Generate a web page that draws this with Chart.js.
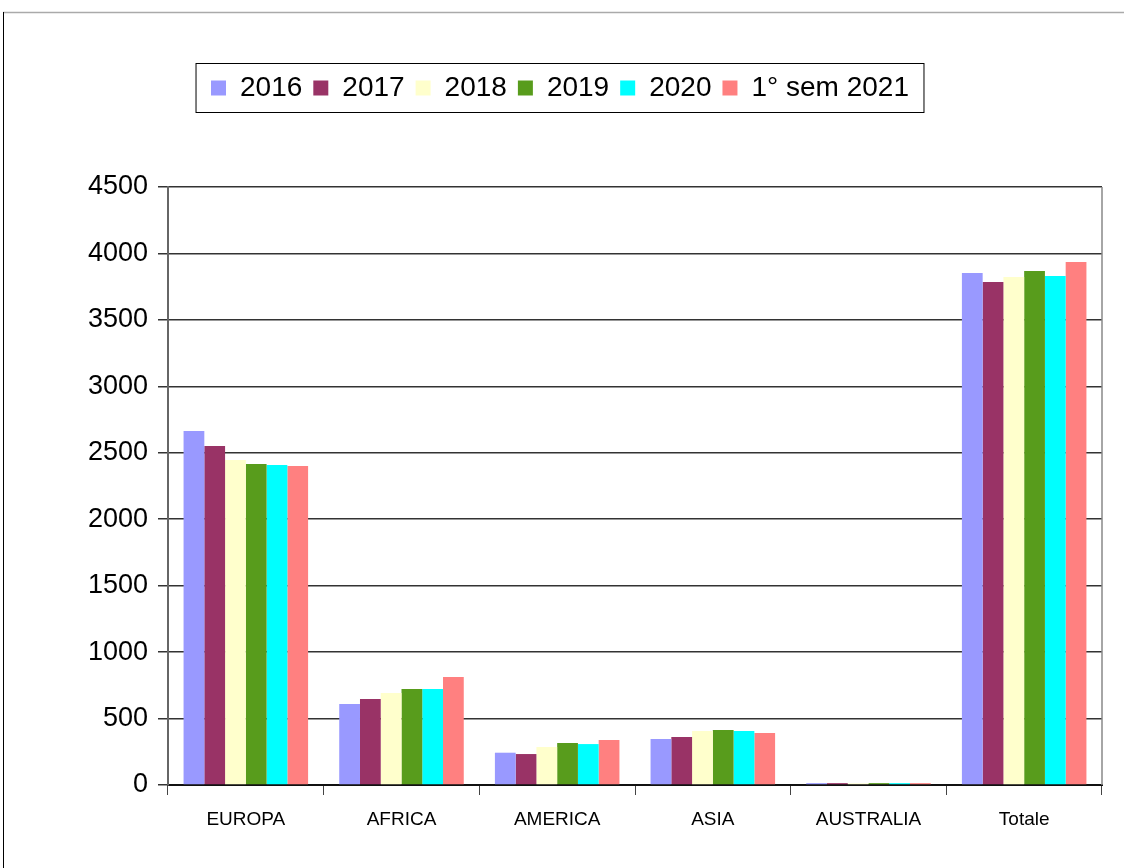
<!DOCTYPE html>
<html>
<head>
<meta charset="utf-8">
<style>
  html, body { margin: 0; padding: 0; background: #fff; }
  #wrap { width: 1124px; height: 868px; }
</style>
<script src="https://cdn.jsdelivr.net/npm/chart.js@4"></script>
</head>
<body>
<div id="wrap"><canvas id="myChart" width="1124" height="868"></canvas></div>
<script>
const labels = ['EUROPA', 'AFRICA', 'AMERICA', 'ASIA', 'AUSTRALIA', 'Totale'];

const y2016 = [2664, 609, 243, 346, 14, 3852];
const y2017 = [2551, 647, 233, 361, 14, 3785];
const y2018 = [2445, 692, 286, 406, 12, 3822];
const y2019 = [2415, 722, 316, 414, 14, 3867];
const y2020 = [2408, 722, 308, 406, 14, 3830];
const y2021 = [2400, 813, 339, 391, 14, 3935];

const seriesNames = ['2016', '2017', '2018', '2019', '2020', '1° sem 2021'];
const seriesColors = ['#9999FF', '#993366', '#FFFFCC', '#589C1C', '#00FFFF', '#FF8080'];
const seriesData = [y2016, y2017, y2018, y2019, y2020, y2021];

const data = {
    labels: labels,
    datasets: seriesData.map((values, i) => ({
        label: seriesNames[i],
        data: values,
        backgroundColor: seriesColors[i],
        borderWidth: 0,
        categoryPercentage: 0.8,
        barPercentage: 1.0,
    }))
};

// page frame, plot frame and legend box
const framePlugin = {
    id: 'frame',
    beforeInit(chart) {
        const legend = chart.legend;
        if (legend) {
            const fit = legend.fit;
            legend.fit = function () {
                fit.call(this);
                this.height = 124;
            };
        }
    },
    afterLayout(chart) {
        const legend = chart.legend;
        if (legend) {
            legend.left += 9;
            legend.right += 9;
            if (legend.adjustHitBoxes) legend.adjustHitBoxes();
        }
    },
    beforeDraw(chart) {
        const ctx = chart.ctx;
        ctx.save();
        ctx.fillStyle = '#fff';
        ctx.fillRect(0, 0, chart.width, chart.height);
        ctx.strokeStyle = '#aaaaaa';
        ctx.lineWidth = 1.5;
        ctx.beginPath();
        ctx.moveTo(3, 12.5);
        ctx.lineTo(chart.width, 12.5);
        ctx.stroke();
        ctx.strokeStyle = '#000';
        ctx.lineWidth = 1;
        ctx.beginPath();
        ctx.moveTo(3.5, 12);
        ctx.lineTo(3.5, chart.height);
        ctx.stroke();
        ctx.restore();
    },
    afterDraw(chart) {
        const ctx = chart.ctx;
        const a = chart.chartArea;
        ctx.save();
        ctx.strokeStyle = '#888';
        ctx.lineWidth = 1.5;
        ctx.beginPath();
        ctx.moveTo(a.right, a.top);
        ctx.lineTo(a.right, a.bottom);
        ctx.stroke();
        const boxes = chart.legend.legendHitBoxes;
        if (boxes && boxes.length) {
            const first = boxes[0];
            const last = boxes[boxes.length - 1];
            const left = first.left - 15;
            const right = last.left + last.width + 15;
            const top = 63.5;
            const bottom = 112.5;
            ctx.strokeStyle = '#000';
            ctx.lineWidth = 1;
            ctx.strokeRect(left, top, right - left, bottom - top);
        }
        ctx.restore();
    }
};

const config = {
    type: 'bar',
    data: data,
    options: {
        responsive: false,
        animation: false,
        layout: {
            padding: { top: 63, right: 22, bottom: 0, left: 0 }
        },
        plugins: {
            legend: {
                position: 'top',
                labels: {
                    color: '#000',
                    font: { family: 'Liberation Sans, Arial, sans-serif', size: 28 },
                    boxWidth: 15,
                    boxHeight: 15,
                    padding: 11,
                }
            },
            tooltip: { enabled: false },
            title: { display: false }
        },
        scales: {
            x: {
                afterFit(scale) { scale.height = 83; },
                grid: {
                    offset: true,
                    drawOnChartArea: false,
                    color: '#444',
                    lineWidth: 1,
                    tickLength: 10,
                },
                border: { color: '#111', width: 2 },
                ticks: {
                    color: '#000',
                    padding: 13,
                    maxRotation: 0,
                    font: { family: 'Liberation Sans, Arial, sans-serif', size: 19 }
                }
            },
            y: {
                min: 0,
                max: 4500,
                afterFit(scale) { scale.width = 168; },
                grid: {
                    color: '#333',
                    lineWidth: 1.5,
                    tickLength: 10,
                },
                border: { color: '#666', width: 2 },
                ticks: {
                    stepSize: 500,
                    color: '#000',
                    padding: 10,
                    font: { family: 'Liberation Sans, Arial, sans-serif', size: 27 },
                    callback: (value) => String(value)
                }
            }
        }
    },
    plugins: [framePlugin]
};

const myChart = new Chart(
    document.getElementById('myChart'),
    config
);
</script>
</body>
</html>
